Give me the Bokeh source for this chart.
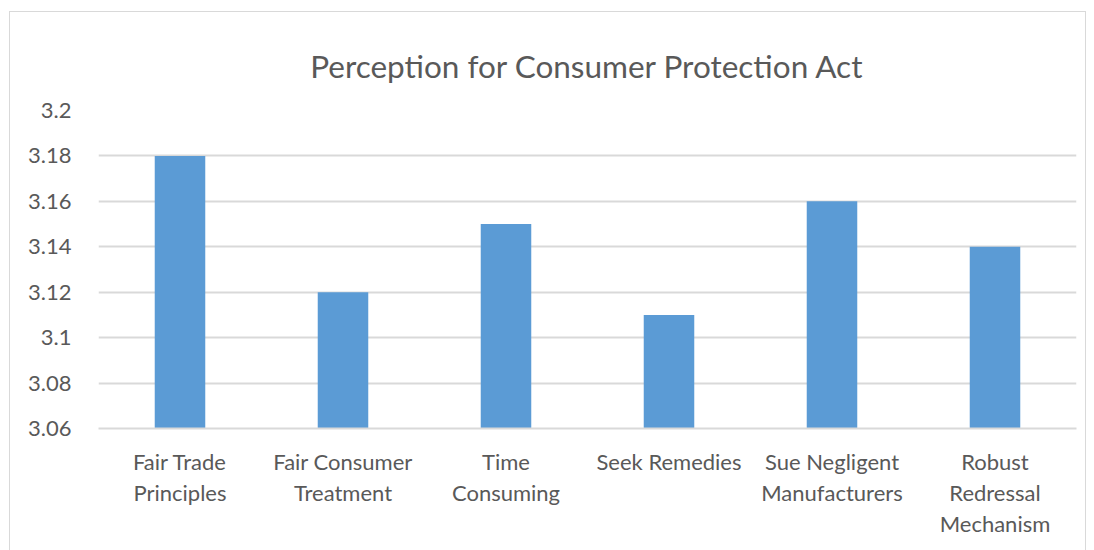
from bokeh.plotting import figure
from bokeh.models import ColumnDataSource, Range1d, SingleIntervalTicker, FixedTicker, Title, LinearAxis
from bokeh.embed import file_html
from bokeh.resources import INLINE

title_text = "Perception for Consumer Protection Act"
categories = ["Fair Trade Principles", "Fair Consumer Treatment", "Time Consuming",
              "Seek Remedies", "Sue Negligent Manufacturers", "Robust Redressal Mechanism"]
label_line1 = ["Fair Trade", "Fair Consumer", "Time", "Seek Remedies", "Sue Negligent", "Robust"]
label_line2 = ["Principles", "Treatment", "Consuming", "", "Manufacturers", "Redressal"]
label_line3 = ["", "", "", "", "", "Mechanism"]
values = [3.18, 3.12, 3.15, 3.11, 3.16, 3.14]
y_min, y_max, y_step = 3.06, 3.2, 0.02

idx = list(range(len(categories)))
source = ColumnDataSource(dict(x=idx, cat=categories, val=values))

FONT = "Lato"
TXT = "#595959"
GRID = "#d9d9d9"
W, H = 1077, 545

p = figure(width=W, height=H, x_range=Range1d(-0.5, len(categories) - 0.5),
           y_range=Range1d(y_min, y_max), output_backend="svg", toolbar_location=None,
           x_axis_location=None,
           min_border_left=88, min_border_right=11, min_border_top=98, min_border_bottom=129)
p.margin = (11, 0, 0, 9)
p.styles = {"border": "1px solid #d9d9d9"}

p.vbar(x="x", top="val", bottom=y_min, width=0.31, source=source,
       fill_color="#5B9BD5", line_color=None)

p.title = Title(text=title_text, align="center",
                text_font=FONT, text_font_size="31.5px", text_color=TXT,
                text_font_style="normal", standoff=52)
p.outline_line_color = None

p.yaxis.ticker = SingleIntervalTicker(interval=y_step)
p.yaxis.axis_line_color = None
p.yaxis.major_tick_line_color = None
p.yaxis.minor_tick_line_color = None
p.yaxis.major_tick_out = 0
p.yaxis.major_label_text_font = FONT
p.yaxis.major_label_text_font_size = "22px"
p.yaxis.major_label_text_color = TXT
p.yaxis.major_label_standoff = 23
p.yaxis.major_label_overrides = {3.2: "3.2", 3.1: "3.1"}

for i, lines in enumerate([label_line1, label_line2, label_line3]):
    ax = LinearAxis(ticker=FixedTicker(ticks=idx, minor_ticks=[]))
    ax.axis_line_color = GRID if i == 0 else None
    ax.axis_line_width = 2
    ax.major_tick_line_color = None
    ax.minor_tick_line_color = None
    ax.major_tick_out = 0
    ax.major_tick_in = 0
    ax.major_label_text_font = FONT
    ax.major_label_text_font_size = "22px"
    ax.major_label_text_color = TXT
    ax.major_label_standoff = 19 if i == 0 else 1
    ax.major_label_overrides = {k: (t if t else " ") for k, t in zip(idx, lines)}
    p.add_layout(ax, "below")

p.xgrid.grid_line_color = None
p.ygrid.grid_line_color = GRID
p.ygrid.grid_line_width = 2

open("out.html", "w").write(file_html(p, INLINE))
